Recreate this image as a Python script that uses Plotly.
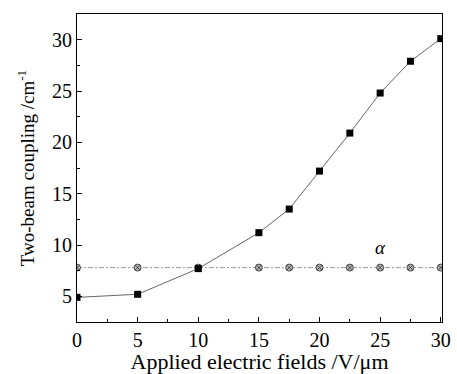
import plotly.graph_objects as go

fields = [0, 5, 10, 15, 17.5, 20, 22.5, 25, 27.5, 30]
coupling = [4.9, 5.2, 7.7, 11.2, 13.5, 17.2, 20.9, 24.8, 27.9, 30.1]
alpha_fields = [0, 5, 10, 15, 17.5, 20, 22.5, 25, 27.5, 30]
alpha_vals = [7.8, 7.8, 7.8, 7.8, 7.8, 7.8, 7.8, 7.8, 7.8, 7.8]

SERIF = "Liberation Serif"

fig = go.Figure()
fig.add_trace(go.Scatter(
    x=alpha_fields, y=alpha_vals, mode="lines+markers",
    line=dict(color="#9a9a9a", width=1, dash="5px,2px,2px,2px"),
    marker=dict(symbol="circle-x", size=7, color="#b8b8b8",
                line=dict(color="#444444", width=1)),
    showlegend=False))
fig.add_trace(go.Scatter(
    x=fields, y=coupling, mode="lines+markers",
    line=dict(color="#666666", width=1),
    marker=dict(symbol="square", size=7, color="black"),
    showlegend=False))

fig.add_annotation(x=25, y=9.8, text="<i>α</i>", showarrow=False,
                   font=dict(family=SERIF, size=19, color="black"))

axis_common = dict(
    showgrid=False, zeroline=False, showline=True, linecolor="black",
    linewidth=1, mirror=True, ticks="inside", ticklen=5, tickwidth=1,
    tickcolor="black", automargin=False,
    tickfont=dict(family=SERIF, size=20, color="black"),
    minor=dict(ticks="inside", ticklen=3, tickcolor="black", dtick=2.5),
)

fig.update_xaxes(range=[0, 30.1], tick0=0, dtick=5,
                 title=dict(text="Applied electric fields /V/μm",
                            font=dict(family=SERIF, size=22, color="black"),
                            standoff=5),
                 **axis_common)
fig.update_yaxes(range=[2.5, 32.5], tick0=5, dtick=5,
                 title=dict(text="Two-beam coupling /cm<sup>-1</sup>",
                            font=dict(family=SERIF, size=19, color="black"),
                            standoff=12),
                 **axis_common)

fig.update_layout(
    width=457, height=374,
    margin=dict(l=77, r=15, t=14, b=52),
    paper_bgcolor="white", plot_bgcolor="white",
)

fig.write_html("out.html", config={"displayModeBar": False},
               post_script="document.body.style.margin='0';document.body.style.overflow='hidden';")
